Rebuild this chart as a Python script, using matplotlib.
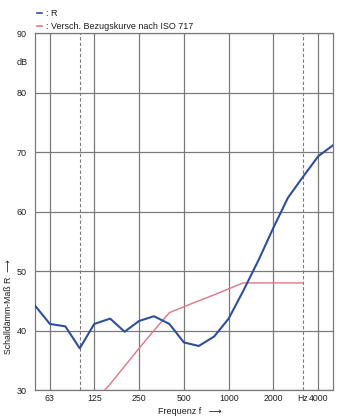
import matplotlib
matplotlib.use("Agg")
import matplotlib.pyplot as plt
from matplotlib.lines import Line2D
import matplotlib.transforms as mtransforms

plt.rcParams['font.family'] = ['Liberation Sans', 'DejaVu Sans']

# third-octave band centre frequencies (Hz)
freq = [50, 63, 80, 100, 125, 160, 200, 250, 315, 400, 500, 630, 800,
        1000, 1250, 1600, 2000, 2500, 3150, 4000, 5000]
# measured sound reduction index R (dB)
r_values = [44.2, 41.1, 40.7, 37.0, 41.1, 42.0, 39.8, 41.6, 42.4, 41.1, 38.0,
            37.4, 39.0, 42.0, 46.6, 52.0, 57.3, 62.3, 65.8, 69.3, 71.1]

# shifted ISO 717 reference curve
ref_freq = [100, 125, 160, 200, 250, 315, 400, 500, 630, 800, 1000, 1250,
            1600, 2000, 2500, 3150]
ref_values = [25, 28, 31, 34, 37, 40, 43, 44, 45, 46, 47, 48, 48, 48, 48, 48]

xtick_pos = [63, 125, 250, 500, 1000, 2000, 3150, 4000]
xtick_labels = ['63', '125', '250', '500', '1000', '2000', 'Hz', '4000']
solid_vlines = [63, 125, 250, 500, 1000, 2000, 4000]
dashed_vlines = [100, 3150]
yticks = [30, 40, 50, 60, 70, 80, 90]

blue = '#2d4f9c'
red = '#e07586'
gridc = '#7a7a7a'
textc = '#1e1e1e'

fig = plt.figure(figsize=(3.46, 4.2), dpi=100)
ax = fig.add_axes([0.101, 0.0714, 0.8606, 0.8500])

ax.set_xscale('log')
ax.set_xlim(50, 5000)
ax.set_ylim(30, 90)

for f in solid_vlines:
    ax.axvline(f, color=gridc, lw=0.9, zorder=1)
for f in dashed_vlines:
    ax.axvline(f, color=gridc, lw=0.8, ls=(0, (3, 2)), zorder=1)
for v in yticks:
    ax.axhline(v, color=gridc, lw=0.9, zorder=1)

ax.plot(ref_freq, ref_values, color=red, lw=1.0, zorder=3)
ax.plot(freq, r_values, color=blue, lw=1.5, zorder=4)

ax.set_xticks(xtick_pos)
ax.set_xticklabels(xtick_labels, fontsize=6.3, color=textc)
ax.xaxis.set_minor_locator(matplotlib.ticker.NullLocator())
ax.set_yticks(yticks)
ax.set_yticklabels([str(v) for v in yticks], fontsize=6.5, color=textc)
ax.tick_params(axis='both', length=0)
ax.tick_params(axis='x', pad=3)
ax.tick_params(axis='y', pad=6)

for s in ax.spines.values():
    s.set_color(gridc)
    s.set_linewidth(0.9)

trans = mtransforms.blended_transform_factory(ax.transAxes, ax.transData)
ax.text(-0.024, 85, 'dB', transform=trans, ha='right', va='center',
        fontsize=6.5, color=textc)

fig.text(0.026, 0.27, 'Schalldämm-Maß R  ⟶', rotation=90, ha='center',
         va='center', fontsize=6.3, color=textc)
fig.text(0.55, 0.02, 'Frequenz f   ⟶', ha='center', va='center',
         fontsize=6.5, color=textc)

# legend at top
fig.add_artist(Line2D([0.107, 0.121], [0.969, 0.969], color=blue, lw=1.2,
                      transform=fig.transFigure))
fig.text(0.132, 0.969, ': R', ha='left', va='center', fontsize=6.5,
         color=textc)
fig.add_artist(Line2D([0.107, 0.121], [0.938, 0.938], color=red, lw=1.2,
                      transform=fig.transFigure))
fig.text(0.132, 0.938, ': Versch. Bezugskurve nach ISO 717', ha='left',
         va='center', fontsize=6.5, color=textc)

fig.savefig('out.png', dpi=100)
